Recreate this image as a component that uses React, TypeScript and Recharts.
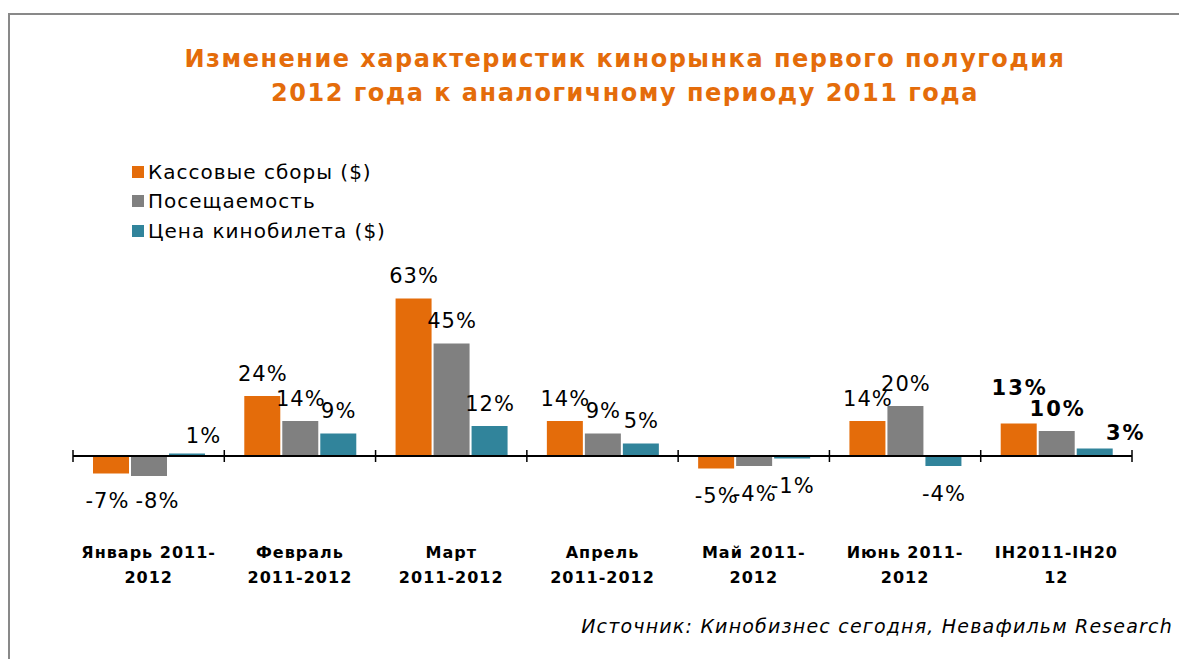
import React from 'react';
import { BarChart, Bar, XAxis, YAxis, ReferenceLine, LabelList, Legend } from 'recharts';

const categories = [
  'Январь 2011-\n2012',
  'Февраль\n2011-2012',
  'Март\n2011-2012',
  'Апрель\n2011-2012',
  'Май 2011-\n2012',
  'Июнь 2011-\n2012',
  'IH2011-IH20\n12',
];
const boxOffice = [-7, 24, 63, 14, -5, 14, 13];
const attendance = [-8, 14, 45, 9, -4, 20, 10];
const ticketPrice = [1, 9, 12, 5, -1, -4, 3];
const seriesNames = ['Кассовые сборы ($)', 'Посещаемость', 'Цена кинобилета ($)'];
const titleLines = [
  'Изменение характеристик кинорынка первого полугодия',
  '2012 года к аналогичному периоду 2011 года',
];
const sourceText = 'Источник: Кинобизнес сегодня, Невафильм Research';

const COLORS = ['#E46C0A', '#808080', '#31849B'];
const FONT = '"DejaVu Sans", Verdana, sans-serif';

const data = categories.map((c, i) => ({
  category: c,
  box: boxOffice[i],
  att: attendance[i],
  price: ticketPrice[i],
}));

const boldIndex = categories.length - 1;
const labelNudges: Record<string, [number, number]> = {
  'box-0': [-4, 0],
  'att-0': [8, -3],
  'price-0': [16, 5],
  'box-6': [0, -13],
  'price-6': [30, 7],
};

function makeLabel(key: string) {
  return (props: any) => {
    const vb = props.viewBox ?? props;
    const x = Number(vb.x);
    const y = Number(vb.y);
    const w = Number(vb.width);
    const h = Number(vb.height);
    const value = Number(props.value);
    const index = props.index;
    const top = Math.min(y, y + h);
    const bottom = Math.max(y, y + h);
    const [dx, dy] = labelNudges[`${key}-${index}`] ?? [0, 0];
    const bold = index === boldIndex;
    const ls = bold ? 2 : 1;
    const cx = x + w / 2 + dx + ls / 2;
    const cy = (value >= 0 ? top - 23 : bottom + 27) + dy;
    return (
      <text
        x={cx}
        y={cy}
        dy="0.36em"
        textAnchor="middle"
        fontSize={21}
        fontFamily={FONT}
        fontWeight={bold ? 'bold' : 'normal'}
        letterSpacing={ls}
        fill="#000"
      >
        {value}%
      </text>
    );
  };
}

const CategoryTick = (props: any) => {
  const { x, y, payload } = props;
  const lines = String(payload.value).split('\n');
  return (
    <text
      x={x}
      y={y}
      textAnchor="middle"
      fontFamily={FONT}
      fontSize={16}
      fontWeight="bold"
      letterSpacing={1}
      fill="#000"
    >
      {lines.map((l, i) => (
        <tspan key={i} x={x} dy={i === 0 ? 77 : 25}>
          {l}
        </tspan>
      ))}
    </text>
  );
};

const ZeroAxis = (props: any) => {
  const { x1, x2, y1 } = props;
  const n = categories.length;
  const step = (x2 - x1) / n;
  const ticks = Array.from({ length: n + 1 }, (_, i) => x1 + i * step);
  return (
    <g>
      <line x1={x1} x2={x2} y1={y1} y2={y1} stroke="#000" strokeWidth={2} />
      {ticks.map((tx, i) => (
        <line key={i} x1={tx} x2={tx} y1={y1 - 6} y2={y1 + 6} stroke="#000" strokeWidth={1.5} />
      ))}
    </g>
  );
};

const renderLegend = (props: any) => (
  <div style={{ fontFamily: FONT, fontSize: 20, color: '#000', letterSpacing: 1 }}>
    {(props.payload ?? []).map((p: any, i: number) => (
      <div key={i} style={{ display: 'flex', alignItems: 'center', height: 29.5, whiteSpace: 'nowrap' }}>
        <span style={{ display: 'inline-block', width: 12, height: 12, background: p.color, marginRight: 4 }} />
        <span>{p.value}</span>
      </div>
    ))}
  </div>
);

export default function App() {
  return (
    <div style={{ position: 'absolute', left: 0, top: 0, width: 1179, height: 659, background: '#fff', overflow: 'hidden' }}>
      <div
        style={{
          position: 'absolute',
          left: 8,
          top: 13,
          width: 1300,
          height: 800,
          borderLeft: '2px solid #898989',
          borderTop: '2px solid #898989',
        }}
      />
      <svg style={{ position: 'absolute', left: 0, top: 0 }} width={1179} height={659}>
        {titleLines.map((t, i) => (
          <text
            key={i}
            x={625}
            y={67 + i * 34}
            textAnchor="middle"
            fontFamily={FONT}
            fontSize={24}
            fontWeight="bold"
            letterSpacing={1.5}
            fill="#E46C0A"
          >
            {t}
          </text>
        ))}
        <text
          x={1173}
          y={633}
          textAnchor="end"
          fontFamily={FONT}
          fontSize={19}
          fontStyle="italic"
          letterSpacing={1.2}
          fill="#000"
        >
          {sourceText}
        </text>
      </svg>
      <div style={{ position: 'absolute', left: 0, top: 0 }}>
        <BarChart
          width={1179}
          height={659}
          data={data}
          margin={{ top: 281, right: 47, bottom: 78, left: 73 }}
          barSize={36}
          barGap={2}
        >
          <XAxis
            dataKey="category"
            axisLine={false}
            tickLine={false}
            tickSize={0}
            tickMargin={0}
            height={100}
            interval={0}
            tick={<CategoryTick />}
          />
          <YAxis hide domain={[-10, 70]} />
          <Legend
            layout="vertical"
            align="center"
            verticalAlign="middle"
            wrapperStyle={{ left: 132, top: 157, width: 'auto', height: 'auto' }}
            content={renderLegend}
          />
          <Bar dataKey="box" name={seriesNames[0]} fill={COLORS[0]} isAnimationActive={false}>
            <LabelList dataKey="box" content={makeLabel('box')} />
          </Bar>
          <Bar dataKey="att" name={seriesNames[1]} fill={COLORS[1]} isAnimationActive={false}>
            <LabelList dataKey="att" content={makeLabel('att')} />
          </Bar>
          <Bar dataKey="price" name={seriesNames[2]} fill={COLORS[2]} isAnimationActive={false}>
            <LabelList dataKey="price" content={makeLabel('price')} />
          </Bar>
          <ReferenceLine y={0} shape={<ZeroAxis />} />
        </BarChart>
      </div>
    </div>
  );
}
